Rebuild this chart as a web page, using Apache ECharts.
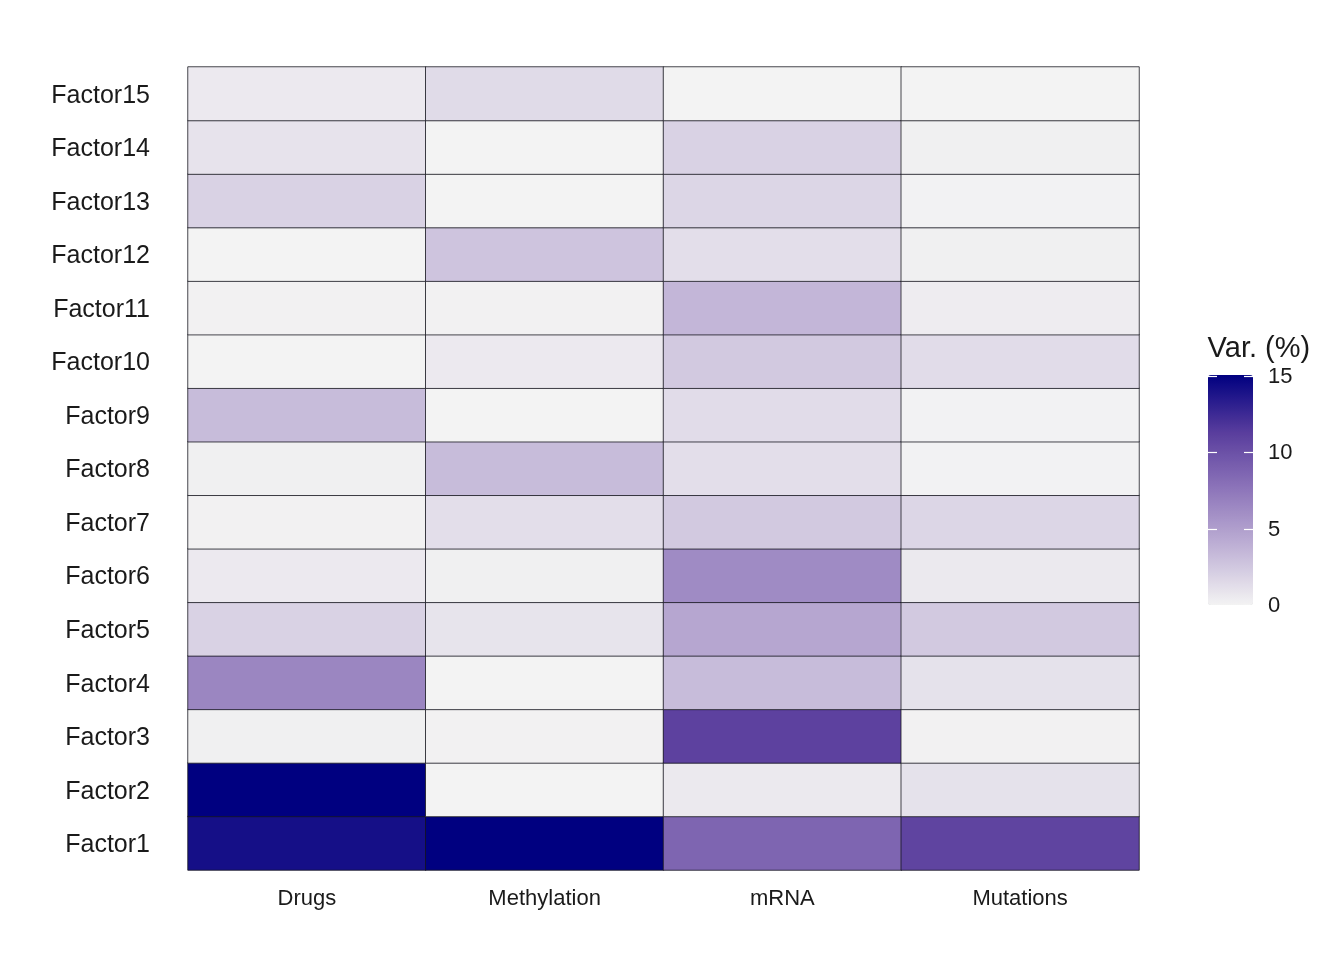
<!DOCTYPE html>
<html lang="en">
<head>
	<meta charset="UTF-8">
	<title>Variance explained per factor</title>
	<script src="https://cdn.jsdelivr.net/npm/echarts@6/dist/echarts.min.js"></script>
	<style>
		html, body { margin: 0; padding: 0; background: #fff; }
		#chart { width: 1344px; height: 960px; }
	</style>
</head>
<body>
<div id="chart"></div>
<script>
	// data (Factor1 .. Factor15)
	var views = ['Drugs', 'Methylation', 'mRNA', 'Mutations'];
	var factors = ['Factor1','Factor2','Factor3','Factor4','Factor5','Factor6','Factor7','Factor8',
		'Factor9','Factor10','Factor11','Factor12','Factor13','Factor14','Factor15'];
	var drugs       = [14.1, 15.0, 0.2, 6.5, 1.9, 0.55, 0.1, 0.2, 3.2, 0, 0.1, 0, 1.9, 0.9, 0.55];
	var methylation = [15.0, 0, 0.1, 0, 0.85, 0.2, 1.2, 3.2, 0, 0.55, 0.1, 2.7, 0, 0, 1.4];
	var mrna        = [8.6, 0.6, 11.0, 3.2, 4.5, 6.2, 2.4, 1.2, 1.3, 2.4, 3.5, 1.2, 1.7, 1.9, 0];
	var mutations   = [10.8, 1.0, 0.1, 1.0, 2.4, 0.6, 1.7, 0.05, 0.05, 1.3, 0.4, 0.2, 0.05, 0.2, 0];
	var legendTicks = [0, 5, 10, 15];

	var cols = [drugs, methylation, mrna, mutations];
	var cells = [];
	for (var i = 0; i < cols.length; i++) {
		for (var j = 0; j < factors.length; j++) {
			cells.push([i, j, cols[i][j]]);
		}
	}

	var font = "'Liberation Sans', Arial, Helvetica, sans-serif";
	var chart = echarts.init(document.getElementById('chart'));

	chart.setOption({
		backgroundColor: '#ffffff',
		animation: false,
		textStyle: { fontFamily: font },
		grid: [
			{ left: 188, top: 67, right: 205, bottom: 90 },
			{ left: 1208, top: 376, width: 45, height: 229 }	// colour bar labels
		],
		xAxis: [
			{
				type: 'category', data: views, gridIndex: 0,
				axisLine: { show: false }, axisTick: { show: false },
				axisLabel: { fontSize: 22, color: '#1a1a1a', margin: 18, fontFamily: font },
				splitLine: { show: false }
			},
			{ type: 'value', gridIndex: 1, show: false }
		],
		yAxis: [
			{
				type: 'category', data: factors, gridIndex: 0,
				axisLine: { show: false }, axisTick: { show: false },
				// small lineHeight + top alignment nudges the labels a bit below row centre, like the original
				axisLabel: { fontSize: 25, color: '#1a1a1a', margin: 38, fontFamily: font, verticalAlign: 'top', lineHeight: 4 },
				splitLine: { show: false }
			},
			{
				type: 'value', gridIndex: 1, position: 'right', min: 0, max: 15, interval: 5,
				axisLine: { show: false },
				axisTick: { show: false },
				axisLabel: {
					fontSize: 22, color: '#1a1a1a', margin: 15, fontFamily: font, verticalAlign: 'top', lineHeight: 2,
					formatter: function (v) { return legendTicks.indexOf(v) >= 0 ? String(v) : ''; }
				},
				splitLine: { show: false }
			}
		],
		visualMap: {
			type: 'continuous',
			min: 0, max: 15,
			seriesIndex: 0,
			orient: 'vertical',
			left: 1208, top: 375,
			itemWidth: 45, itemHeight: 230,
			padding: 0,
			calculable: false,
			hoverLink: false,
			text: null,
			inRange: { color: ['#f3f3f3', '#c0b2d6', '#8e76ba', '#593d9d', '#000080'] }
		},
		graphic: [
			{
				type: 'text', left: 1207, top: 334,
				style: { text: 'Var. (%)', fontSize: 29, fill: '#1a1a1a', fontFamily: font }
			}
		],
		series: [
			{
				type: 'heatmap',
				xAxisIndex: 0, yAxisIndex: 0,
				data: cells,
				itemStyle: { borderColor: 'rgba(20,20,30,0.78)', borderWidth: 1 },
				emphasis: { disabled: true }
			}
		]
	});

	// white tick marks on both sides of the colour bar, placed via the legend axis scale
	var tickMarks = [];
	legendTicks.forEach(function (v) {
		var y = Math.round(chart.convertToPixel({ yAxisIndex: 1 }, v)) + 0.5;
		tickMarks.push({ type: 'line', z: 100, shape: { x1: 1208, y1: y, x2: 1217, y2: y }, style: { stroke: '#ffffff', lineWidth: 1.2 } });
		tickMarks.push({ type: 'line', z: 100, shape: { x1: 1244, y1: y, x2: 1253, y2: y }, style: { stroke: '#ffffff', lineWidth: 1.2 } });
	});
	chart.setOption({ graphic: tickMarks });
</script>
</body>
</html>
